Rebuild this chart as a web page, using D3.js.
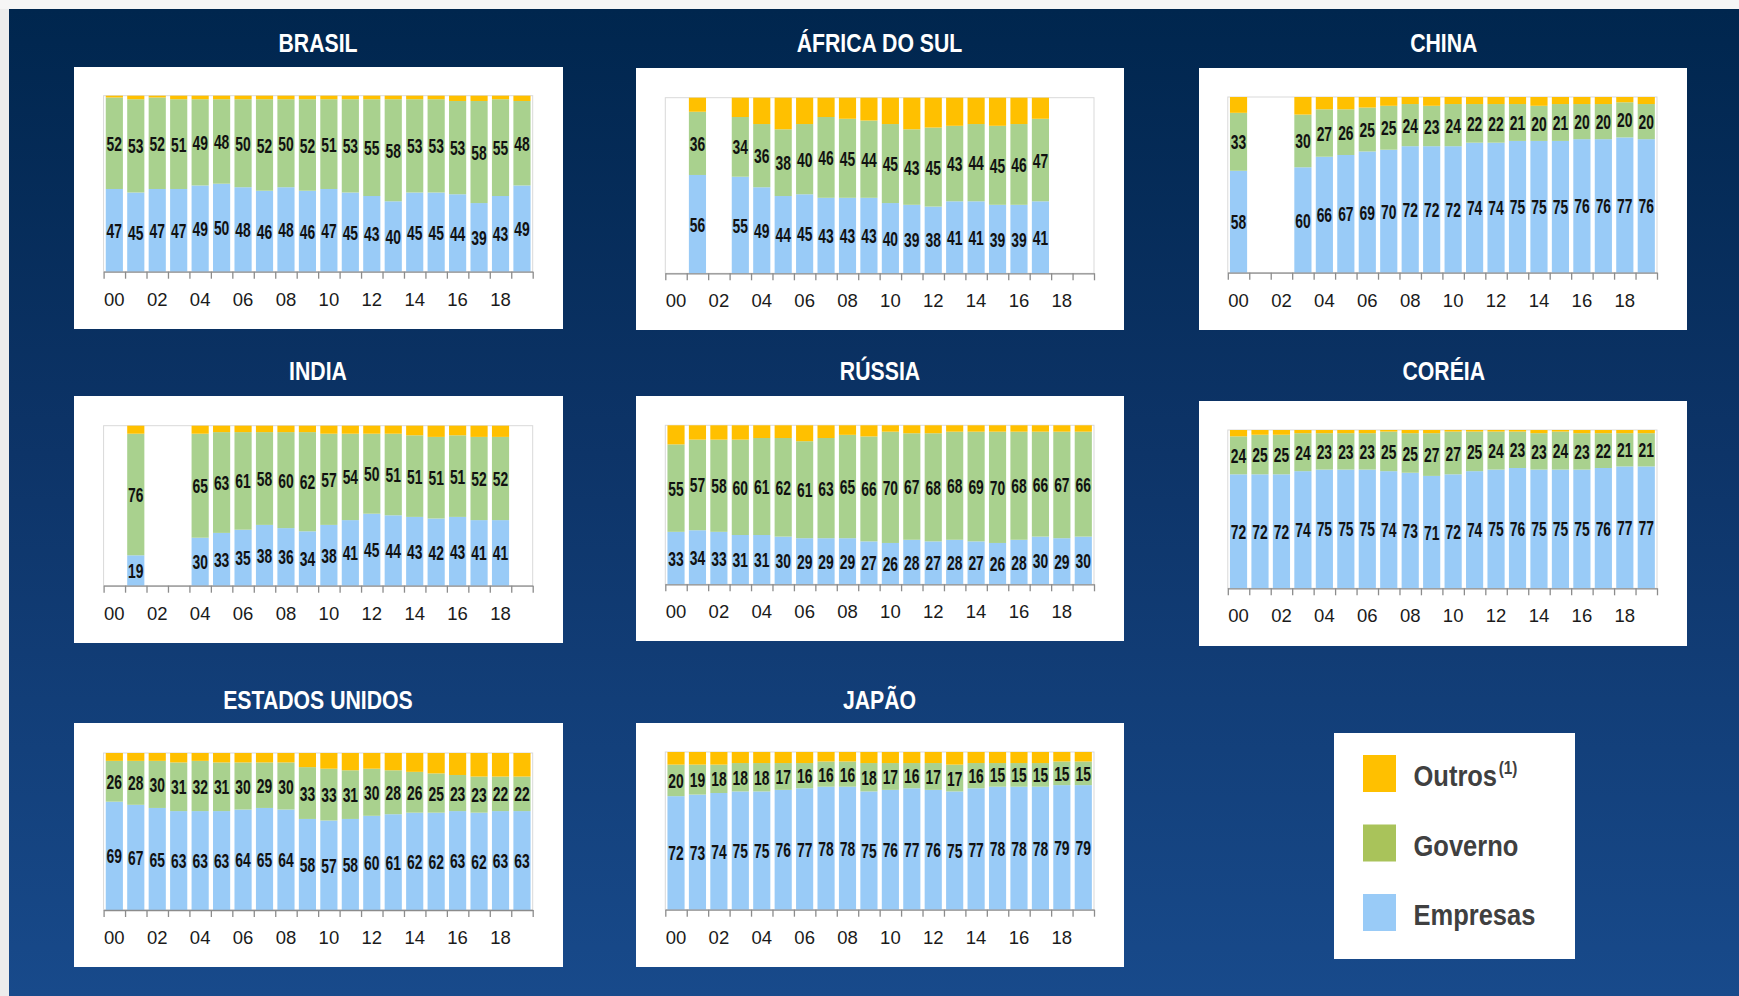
<!DOCTYPE html>
<html><head><meta charset="utf-8">
<script src="https://cdn.jsdelivr.net/npm/d3@7"></script>
<style>body{margin:0;background:#f4f4f4;overflow:hidden}</style>
</head><body><svg id="c" width="1739" height="996"></svg>
<script>
// ---------- DATA ----------
const years = ["00","01","02","03","04","05","06","07","08","09","10","11","12","13","14","15","16","17","18","19"];
const tickLabels = ["00","02","04","06","08","10","12","14","16","18"];
const seriesNames = ["Empresas","Governo","Outros"];
const legendLabels = ["Outros","Governo","Empresas"];
const countryNames = ["BRASIL","ÁFRICA DO SUL","CHINA","INDIA","RÚSSIA","CORÉIA","ESTADOS UNIDOS","JAPÃO"];

const brasilEmpresas = [47,45,47,47,49,50,48,46,48,46,47,45,43,40,45,45,44,39,43,49];
const brasilGoverno  = [52,53,52,51,49,48,50,52,50,52,51,53,55,58,53,53,53,58,55,48];
const brasilOutros   = [1,2,1,2,2,2,2,2,2,2,2,2,2,2,2,2,3,3,2,3];

const africaEmpresas = [null,56,null,55,49,44,45,43,43,43,40,39,38,41,41,39,39,41,null,null];
const africaGoverno  = [null,36,null,34,36,38,40,46,45,44,45,43,45,43,44,45,46,47,null,null];
const africaOutros   = [null,8,null,11,15,18,15,11,12,13,15,18,17,16,15,16,15,12,null,null];

const chinaEmpresas = [58,null,null,60,66,67,69,70,72,72,72,74,74,75,75,75,76,76,77,76];
const chinaGoverno  = [33,null,null,30,27,26,25,25,24,23,24,22,22,21,20,21,20,20,20,20];
const chinaOutros   = [9,null,null,10,7,7,6,5,4,5,4,4,4,4,5,4,4,4,3,4];

const indiaEmpresas = [null,19,null,null,30,33,35,38,36,34,38,41,45,44,43,42,43,41,41,null];
const indiaGoverno  = [null,76,null,null,65,63,61,58,60,62,57,54,50,51,51,51,51,52,52,null];
const indiaOutros   = [null,5,null,null,5,4,4,4,4,4,5,5,5,5,6,7,6,7,7,null];

const russiaEmpresas = [33,34,33,31,31,30,29,29,29,27,26,28,27,28,27,26,28,30,29,30];
const russiaGoverno  = [55,57,58,60,61,62,61,63,65,66,70,67,68,68,69,70,68,66,67,66];
const russiaOutros   = [12,9,9,9,8,8,10,8,6,7,4,5,5,4,4,4,4,4,4,4];

const coreiaEmpresas = [72,72,72,74,75,75,75,74,73,71,72,74,75,76,75,75,75,76,77,77];
const coreiaGoverno  = [24,25,25,24,23,23,23,25,25,27,27,25,24,23,23,24,23,22,21,21];
const coreiaOutros   = [4,3,3,2,2,2,2,1,2,2,1,1,1,1,2,1,2,2,2,2];

const euaEmpresas = [69,67,65,63,63,63,64,65,64,58,57,58,60,61,62,62,63,62,63,63];
const euaGoverno  = [26,28,30,31,32,31,30,29,30,33,33,31,30,28,26,25,23,23,22,22];
const euaOutros   = [5,5,5,6,5,6,6,6,6,9,10,11,10,11,12,13,14,15,15,15];

const japaoEmpresas = [72,73,74,75,75,76,77,78,78,75,76,77,76,75,77,78,78,78,79,79];
const japaoGoverno  = [20,19,18,18,18,17,16,16,16,18,17,16,17,17,16,15,15,15,15,15];
const japaoOutros   = [8,8,8,7,7,7,7,6,6,7,7,7,7,8,7,7,7,7,6,6];

const countrySeries = [
  [brasilEmpresas, brasilGoverno, brasilOutros],
  [africaEmpresas, africaGoverno, africaOutros],
  [chinaEmpresas, chinaGoverno, chinaOutros],
  [indiaEmpresas, indiaGoverno, indiaOutros],
  [russiaEmpresas, russiaGoverno, russiaOutros],
  [coreiaEmpresas, coreiaGoverno, coreiaOutros],
  [euaEmpresas, euaGoverno, euaOutros],
  [japaoEmpresas, japaoGoverno, japaoOutros]
];

// ---------- LAYOUT ----------
const layout = [
  {box:[74,67,563,329],   plot:[103.6,95.7,532.7,271.7], title:[318,52]},
  {box:[636,68,1124,330], plot:[665.3,97.7,1094,273.3],  title:[879.5,52]},
  {box:[1199,68,1687,330],plot:[1227.8,97,1657,272.7],   title:[1443.8,52]},
  {box:[74,396,563,643],  plot:[103.6,425.7,532.7,585.7],title:[318,380]},
  {box:[636,396,1124,641],plot:[665.3,425.3,1094,584.3], title:[880,380]},
  {box:[1199,401,1687,646],plot:[1227.8,430,1657,588.3], title:[1443.8,380]},
  {box:[74,723,563,967],  plot:[103.6,753,532.7,910],    title:[318,709]},
  {box:[636,723,1124,967],plot:[665.3,752,1094,909.7],   title:[879.5,709]}
];
const colors = {Empresas:"#99cbf7", Governo:"#a9d18e", Outros:"#ffc000"};
const legendColors = {Outros:"#ffc000", Governo:"#a9c35a", Empresas:"#99cbf7"};

const svg = d3.select("#c");
const defs = svg.append("defs");
const grad = defs.append("linearGradient").attr("id","bg").attr("x1",0).attr("y1",0).attr("x2",0).attr("y2",1);
grad.append("stop").attr("offset","0%").attr("stop-color","#00264e");
grad.append("stop").attr("offset","45%").attr("stop-color","#0d3468");
grad.append("stop").attr("offset","100%").attr("stop-color","#184a8b");

svg.append("rect").attr("width",1739).attr("height",996).attr("fill","#f6f6f6");
svg.append("rect").attr("x",0).attr("y",9).attr("width",9).attr("height",987).attr("fill","#ececec");
svg.append("rect").attr("x",9).attr("y",9).attr("width",1730).attr("height",987).attr("fill","url(#bg)");

const FONT = "'Liberation Sans', Arial, sans-serif";

layout.forEach((L, i) => {
  const [emp, gov, out] = countrySeries[i];
  const g = svg.append("g");
  g.append("text")
    .attr("transform", `translate(${L.title[0]},${L.title[1]}) scale(0.85,1)`)
    .attr("text-anchor","middle")
    .attr("font-family",FONT).attr("font-weight","bold").attr("font-size",25)
    .attr("fill","#ffffff").text(countryNames[i]);
  g.append("rect").attr("x",L.box[0]).attr("y",L.box[1])
    .attr("width",L.box[2]-L.box[0]).attr("height",L.box[3]-L.box[1]).attr("fill","#fff");

  const [px0,py0,px1,py1] = L.plot;
  const x = d3.scaleBand().domain(years).range([px0,px1]).paddingInner(0.2).paddingOuter(0.1);
  const y = d3.scaleLinear().domain([0,100]).range([py1,py0]);

  g.append("rect").attr("x",px0).attr("y",py0).attr("width",px1-px0).attr("height",py1-py0)
    .attr("fill","none").attr("stroke","#d9d9d9").attr("stroke-width",1);

  const rows = years.map((yr,k) => ({year:yr, Empresas:emp[k], Governo:gov[k], Outros:out[k]}))
    .filter(r => r.Empresas != null);
  const stacked = d3.stack().keys(seriesNames)(rows);

  stacked.forEach(layer => {
    g.append("g").selectAll("rect").data(layer).join("rect")
      .attr("x", d => x(d.data.year))
      .attr("width", x.bandwidth())
      .attr("y", d => y(d[1]))
      .attr("height", d => y(d[0]) - y(d[1]))
      .attr("fill", colors[layer.key]);
    if (layer.key !== "Outros") {
      g.append("g").selectAll("text").data(layer).join("text")
        .attr("transform", d => `translate(${x(d.data.year)+x.bandwidth()/2},${(y(d[0])+y(d[1]))/2}) scale(0.66,1)`)
        .attr("text-anchor","middle").attr("dy","0.36em")
        .attr("font-family",FONT).attr("font-weight","bold").attr("font-size",21)
        .attr("fill","#111").text(d => d.data[layer.key]);
    }
  });

  const xl = d3.scaleLinear().domain([0,years.length]).range([px0,px1]);
  const axT = g.append("g").attr("transform",`translate(0,${py1})`)
    .call(d3.axisBottom(xl).tickValues(d3.range(years.length+1)).tickSize(7).tickSizeOuter(0).tickFormat(""));
  axT.selectAll("line,path").attr("stroke","#8c8c8c").attr("stroke-width",1.3);
  const axL = g.append("g").attr("transform",`translate(0,${py1})`)
    .call(d3.axisBottom(x).tickValues(tickLabels).tickSize(0).tickPadding(21));
  axL.select(".domain").remove();
  axL.selectAll("text").attr("font-family",FONT).attr("font-size",18.5).attr("fill","#1a1a1a");
});

// legend
const lg = svg.append("g");
lg.append("rect").attr("x",1334).attr("y",733).attr("width",241).attr("height",226).attr("fill","#fff");
const legY = d3.scalePoint().domain(legendLabels).range([755,894]);
legendLabels.forEach(k => {
  lg.append("rect").attr("x",1363).attr("y",legY(k)).attr("width",33).attr("height",37).attr("fill",legendColors[k]);
  const t = lg.append("text")
    .attr("transform",`translate(1413.5,${legY(k)+31}) scale(0.85,1)`)
    .attr("font-family",FONT).attr("font-weight","bold").attr("font-size",30).attr("fill","#404040");
  t.append("tspan").text(k);
  if (k === "Outros") t.append("tspan").attr("font-size",18).attr("dy",-12).attr("dx",2).text("(1)");
});
</script></body></html>
